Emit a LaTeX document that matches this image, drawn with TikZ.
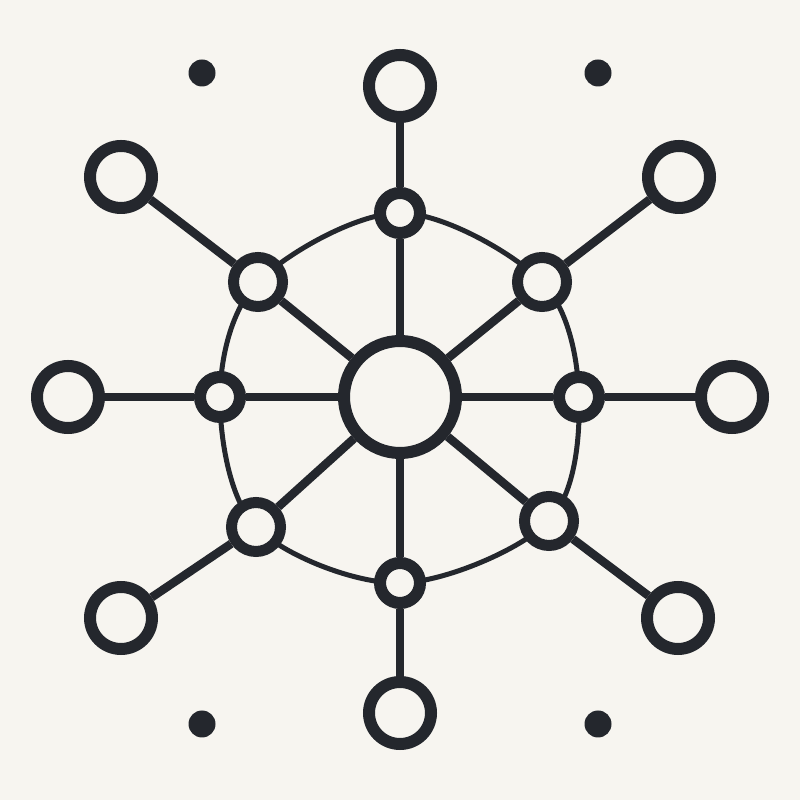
\documentclass[tikz,border=0pt]{standalone}
\usetikzlibrary{backgrounds}
\definecolor{bg}{HTML}{F7F5F0}
\definecolor{ink}{HTML}{24272D}
\begin{document}
\begin{tikzpicture}[x=1pt,y=1pt,
  outernode/.style={circle,draw=ink,fill=bg,line width=12,inner sep=0,minimum size=62},
  innernode/.style={circle,draw=ink,fill=bg,line width=12,inner sep=0,minimum size=40},
  diagnode/.style={circle,draw=ink,fill=bg,line width=11,inner sep=0,minimum size=49},
  hubnode/.style={circle,draw=ink,fill=bg,line width=12,inner sep=0,minimum size=112},
  dotnode/.style={circle,fill=ink,inner sep=0,minimum size=27},
  spoke/.style={draw=ink,line width=8.5},
  ring/.style={draw=ink,line width=5}]
\useasboundingbox (0,0) rectangle (800,800);
% hub
\node[hubnode] (C) at (400,403) {};
% inner nodes
\node[innernode] (iT)  at (400,587) {};
\node[diagnode]  (iTR) at (542,518) {};
\node[innernode] (iR)  at (579,403) {};
\node[diagnode]  (iBR) at (549,279) {};
\node[innernode] (iB)  at (400,217) {};
\node[diagnode]  (iBL) at (256,273) {};
\node[innernode] (iL)  at (220,403) {};
\node[diagnode]  (iTL) at (258,518) {};
% outer nodes
\node[outernode] (oT)  at (400,714) {};
\node[outernode] (oTR) at (679,623) {};
\node[outernode] (oR)  at (732,403) {};
\node[outernode] (oBR) at (678,182) {};
\node[outernode] (oB)  at (400,87) {};
\node[outernode] (oBL) at (121,182) {};
\node[outernode] (oL)  at (68,403) {};
\node[outernode] (oTL) at (121,623) {};
% corner dots
\node[dotnode] (d1) at (202,727) {};
\node[dotnode] (d2) at (598,727) {};
\node[dotnode] (d3) at (202,76) {};
\node[dotnode] (d4) at (598,76) {};
% spokes
\foreach \n in {T,TR,R,BR,B,BL,L,TL}{
  \draw[spoke] (C) -- (i\n);
  \draw[spoke] (i\n) -- (o\n);
}
% background and ring behind the nodes
\begin{scope}[on background layer]
\fill[bg] (0,0) rectangle (800,800);
\draw[ring] plot[smooth cycle, tension=0.55] coordinates {(iT.center) (iTR.center) (iR.center) (iBR.center) (iB.center) (iBL.center) (iL.center) (iTL.center)};
\end{scope}
\end{tikzpicture}
\end{document}
